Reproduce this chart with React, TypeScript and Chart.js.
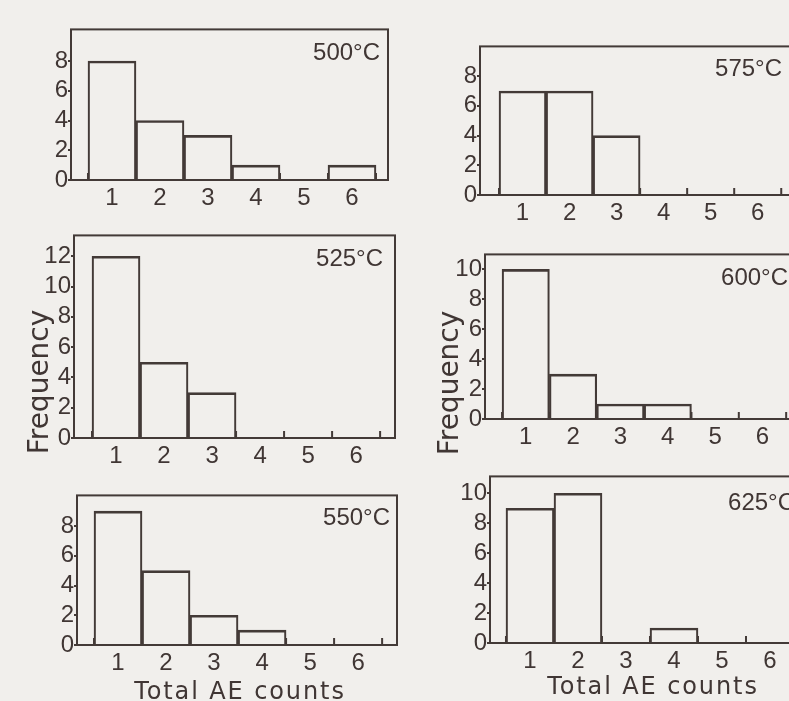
import React, { useEffect, useRef } from 'react';
import { Chart, registerables } from 'chart.js';

Chart.register(...registerables);

// ---------- data ----------
const countBins = [1, 2, 3, 4, 5, 6];
const binEdges = [0.5, 1.5, 2.5, 3.5, 4.5, 5.5, 6.5];

const freq500 = [8, 4, 3, 1, 0, 1];
const freq525 = [12, 5, 3, 0, 0, 0];
const freq550 = [9, 5, 2, 1, 0, 0];
const freq575 = [7, 7, 4, 0, 0, 0];
const freq600 = [10, 3, 1, 1, 0, 0];
const freq625 = [9, 10, 0, 1, 0, 0];

const yTicks8 = [0, 2, 4, 6, 8];
const yTicks10 = [0, 2, 4, 6, 8, 10];
const yTicks12 = [0, 2, 4, 6, 8, 10, 12];

const temperatures = ['500°C', '525°C', '550°C', '575°C', '600°C', '625°C'];
const yAxisLabel = 'Frequency';
const xAxisLabel = 'Total AE counts';

// ---------- styles ----------
const LINE = '#433a37';
const TEXT = '#403634';
const PAPER = '#f1efec';
const NUM_FONT = '"Liberation Sans", Arial, sans-serif';
const WORD_FONT = '"DejaVu Sans", sans-serif';

// ---------- layout (page pixel positions of each plot frame) ----------
type Area = { l: number; t: number; r: number; b: number };
type PanelSpec = {
  temp: string;
  values: number[];
  yTicks: number[];
  yMax: number;
  xMin: number;
  xMax: number;
  area: Area;
  canvasLeft: number;
  padB: number;
  tempInset: number;
  tempDy: number;
  yTitle?: { dx: number; dy: number };
  xTitle?: { dx: number; dy: number };
};

const PAD_T = 3;
const PAD_R = 3;

const panels: PanelSpec[] = [
  { temp: temperatures[0], values: freq500, yTicks: yTicks8, yMax: 10.125, xMin: 0.146, xMax: 6.75,
    area: { l: 71, t: 18, r: 388, b: 180 }, canvasLeft: 0, padB: 40, tempInset: 8, tempDy: 24 },
  { temp: temperatures[1], values: freq525, yTicks: yTicks12, yMax: 13.375, xMin: 0.125, xMax: 6.81,
    area: { l: 74, t: 224, r: 395, b: 438 }, canvasLeft: 0, padB: 40, tempInset: 12, tempDy: 24,
    yTitle: { dx: -26, dy: -56 } },
  { temp: temperatures[2], values: freq550, yTicks: yTicks8, yMax: 10.06, xMin: 0.146, xMax: 6.81,
    area: { l: 77, t: 484, r: 397, b: 645 }, canvasLeft: 0, padB: 56, tempInset: 7, tempDy: 23,
    xTitle: { dx: 3, dy: 54 } },
  { temp: temperatures[3], values: freq575, yTicks: yTicks8, yMax: 10, xMin: 0.096, xMax: 6.75,
    area: { l: 480, t: 35, r: 793, b: 195 }, canvasLeft: 420, padB: 40, tempInset: 11, tempDy: 23 },
  { temp: temperatures[4], values: freq600, yTicks: yTicks10, yMax: 11, xMin: 0.14, xMax: 6.75,
    area: { l: 485, t: 243, r: 798, b: 419 }, canvasLeft: 420, padB: 40, tempInset: 10, tempDy: 24,
    yTitle: { dx: -27, dy: -36 } },
  { temp: temperatures[5], values: freq625, yTicks: yTicks10, yMax: 11.125, xMin: 0.167, xMax: 6.75,
    area: { l: 490, t: 465, r: 806, b: 643 }, canvasLeft: 420, padB: 58, tempInset: 11, tempDy: 27,
    xTitle: { dx: 5, dy: 51 } },
];

function makeFramePlugin(spec: PanelSpec) {
  return {
    id: 'histFrame',
    afterDraw(chart: any) {
      const { ctx, chartArea: a, scales } = chart;
      const xs = scales.x;
      ctx.save();
      ctx.strokeStyle = LINE;
      ctx.lineWidth = 2;
      ctx.beginPath();
      for (const e of binEdges) {
        const px = xs.getPixelForValue(e);
        ctx.moveTo(px, a.bottom);
        ctx.lineTo(px, a.bottom - 7);
      }
      ctx.stroke();
      ctx.strokeRect(a.left, a.top, a.right - a.left, a.bottom - a.top);

      ctx.fillStyle = TEXT;
      ctx.font = `24px ${NUM_FONT}`;
      ctx.textAlign = 'right';
      ctx.textBaseline = 'middle';
      ctx.fillText(spec.temp, a.right - spec.tempInset, a.top + spec.tempDy);

      if (spec.yTitle) {
        ctx.save();
        ctx.translate(a.left + spec.yTitle.dx, a.bottom + spec.yTitle.dy);
        ctx.rotate(-Math.PI / 2);
        ctx.font = `28px ${WORD_FONT}`;
        ctx.textAlign = 'center';
        ctx.textBaseline = 'alphabetic';
        ctx.fillText(yAxisLabel, 0, 0);
        ctx.restore();
      }
      if (spec.xTitle) {
        ctx.save();
        ctx.font = `24px ${WORD_FONT}`;
        (ctx as any).letterSpacing = '1.9px';
        ctx.textAlign = 'center';
        ctx.textBaseline = 'alphabetic';
        ctx.fillText(xAxisLabel, (a.left + a.right) / 2 + spec.xTitle.dx, a.bottom + spec.xTitle.dy);
        ctx.restore();
      }
      ctx.restore();
    },
  };
}

function Panel({ spec }: { spec: PanelSpec }) {
  const ref = useRef<HTMLCanvasElement>(null);
  const padL = spec.area.l - spec.canvasLeft;
  const width = spec.area.r + PAD_R - spec.canvasLeft;
  const height = spec.area.b - spec.area.t + PAD_T + spec.padB;
  const top = spec.area.t - PAD_T;

  useEffect(() => {
    if (!ref.current) return;
    const chart = new Chart(ref.current, {
      type: 'bar',
      data: {
        datasets: [
          {
            data: spec.values.map((v, i) => ({ x: countBins[i], y: v })),
            backgroundColor: 'rgba(0,0,0,0)',
            borderColor: LINE,
            borderWidth: { top: 2, left: 1.5, right: 1.5, bottom: 0 },
            borderSkipped: 'start',
            barPercentage: 1,
            categoryPercentage: 1,
          } as any,
        ],
      },
      options: {
        responsive: false,
        animation: false,
        devicePixelRatio: 1,
        layout: { padding: { top: PAD_T, right: PAD_R, left: 0, bottom: 0 } },
        plugins: { legend: { display: false }, tooltip: { enabled: false } },
        events: [],
        scales: {
          x: {
            type: 'linear',
            offset: false,
            min: spec.xMin,
            max: spec.xMax,
            afterBuildTicks: (s: any) => {
              s.ticks = countBins.map((v) => ({ value: v }));
            },
            afterFit: (s: any) => {
              s.height = spec.padB;
            },
            grid: { display: false, offset: false },
            border: { display: false },
            ticks: {
              color: TEXT,
              font: { family: NUM_FONT, size: 24, lineHeight: 1.2 },
              padding: -4,
              maxRotation: 0,
              autoSkip: false,
            },
          },
          y: {
            type: 'linear',
            min: 0,
            max: spec.yMax,
            afterBuildTicks: (s: any) => {
              s.ticks = spec.yTicks.map((v) => ({ value: v }));
            },
            afterFit: (s: any) => {
              s.width = padL;
            },
            grid: { drawOnChartArea: false, drawTicks: true, tickLength: 3, color: LINE, lineWidth: 2 },
            border: { display: false },
            ticks: {
              color: TEXT,
              font: { family: NUM_FONT, size: 24, lineHeight: 1.2 },
              padding: 0,
            },
          },
        },
      } as any,
      plugins: [makeFramePlugin(spec)],
    });
    return () => chart.destroy();
  }, [spec]);

  return (
    <canvas
      ref={ref}
      width={width}
      height={height}
      style={{ position: 'absolute', left: spec.canvasLeft, top, width, height }}
    />
  );
}

export default function App() {
  return (
    <div
      style={{
        position: 'fixed',
        left: 0,
        top: 0,
        width: 789,
        height: 701,
        overflow: 'hidden',
        background: PAPER,
      }}
    >
      {panels.map((p) => (
        <Panel key={p.temp} spec={p} />
      ))}
    </div>
  );
}
